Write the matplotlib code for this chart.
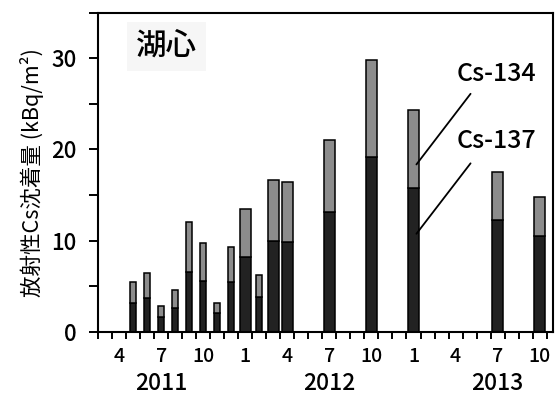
import numpy as np
import matplotlib
matplotlib.use("Agg")
import matplotlib.pyplot as plt
import matplotlib.transforms as mtransforms

plt.rcParams['font.family'] = ['Noto Sans CJK JP', 'DejaVu Sans']
plt.rcParams['font.weight'] = 'medium'

# 観測月 (年, 月)
periods = [
    (2011, 5), (2011, 6), (2011, 7), (2011, 8), (2011, 9), (2011, 10),
    (2011, 11), (2011, 12), (2012, 1), (2012, 2), (2012, 3), (2012, 4),
    (2012, 7), (2012, 10), (2013, 1), (2013, 7), (2013, 10),
]
# Cs-137 沈着量 (kBq/m2)
cs137 = [3.1, 3.7, 1.6, 2.6, 6.5, 5.6, 2.0, 5.4, 8.2, 3.8, 9.9, 9.8,
         13.1, 19.2, 15.8, 12.2, 10.5]
# Cs-134 沈着量 (kBq/m2)
cs134 = [2.4, 2.7, 1.2, 2.0, 5.5, 4.1, 1.1, 3.9, 5.3, 2.4, 6.7, 6.6,
         7.9, 10.6, 8.5, 5.3, 4.3]
# 細い棒 (期間の短い採取)
narrow = [True, True, True, True, True, True, True, True,
          False, True, False, False, False, False, False, False, False]

month_labels = ["4", "7", "10", "1", "4", "7", "10", "1", "4", "7", "10"]
label_months = [(2011, 4), (2011, 7), (2011, 10), (2012, 1), (2012, 4), (2012, 7),
                (2012, 10), (2013, 1), (2013, 4), (2013, 7), (2013, 10)]
year_labels = ["2011", "2012", "2013"]
year_months = [(2011, 7), (2012, 7), (2013, 7)]


def month_pos(ym):
    """2011年3月を0とした月の中央位置"""
    y, m = ym
    return (y - 2011) * 12 + (m - 3) + 0.5


x = np.array([month_pos(p) for p in periods])
cs137 = np.array(cs137)
cs134 = np.array(cs134)
widths = np.where(narrow, 0.42, 0.80)

fig = plt.figure(figsize=(5.56, 3.96), dpi=100)
ax = fig.add_axes([0.1763, 0.1624, 0.8183, 0.8056])

ax.bar(x, cs137, widths, color="#222222", edgecolor="black", linewidth=1.1)
ax.bar(x, cs134, widths, bottom=cs137, color="#8c8c8c", edgecolor="black", linewidth=1.1)

ax.set_xlim(0, 32.45)
ax.set_ylim(0, 35)

# 目盛
ax.set_yticks([0, 10, 20, 30])
ax.set_yticks([5, 15, 25, 35], minor=True)
ax.tick_params(axis="y", which="both", direction="out", length=6.5, width=1.4,
               labelsize=16, pad=9)

ax.set_xticks(np.arange(0, 33))
ax.set_xticklabels([])
ax.tick_params(axis="x", which="major", direction="out", length=5, width=1.4)
ax.set_xticks([month_pos(p) for p in label_months], minor=True)
ax.set_xticklabels(month_labels, minor=True)
ax.tick_params(axis="x", which="minor", length=0, labelsize=14, pad=11)

trans = mtransforms.blended_transform_factory(ax.transData, ax.transAxes)
for lab, ym in zip(year_labels, year_months):
    ax.text(month_pos(ym), -0.125, lab, transform=trans, ha="center", va="top",
            fontsize=16.5)

for sp in ax.spines.values():
    sp.set_linewidth(1.5)

ax.set_ylabel("放射性Cs沈着量 (kBq/m²)", fontsize=15.5, labelpad=5)

# 地点名
ax.text(4.9, 31.3, "湖心", fontsize=22, ha="center", va="center",
        bbox=dict(boxstyle="square,pad=0.3", facecolor="#f6f6f6", edgecolor="none"))

# 凡例の引き出し線
i = periods.index((2013, 1))
ax.text(28.4, 28.3, "Cs-134", fontsize=18, ha="center", va="center")
ax.text(28.4, 20.9, "Cs-137", fontsize=18, ha="center", va="center")
ax.annotate("", xy=(x[i] + 0.21, cs137[i] + cs134[i] * 0.3), xytext=(26.57, 26.1),
            arrowprops=dict(arrowstyle="-", lw=1.3, color="black", shrinkA=0, shrinkB=0))
ax.annotate("", xy=(x[i] + 0.21, cs137[i] * 0.68), xytext=(26.57, 18.47),
            arrowprops=dict(arrowstyle="-", lw=1.3, color="black", shrinkA=0, shrinkB=0))

fig.savefig("out.png", dpi=100)
